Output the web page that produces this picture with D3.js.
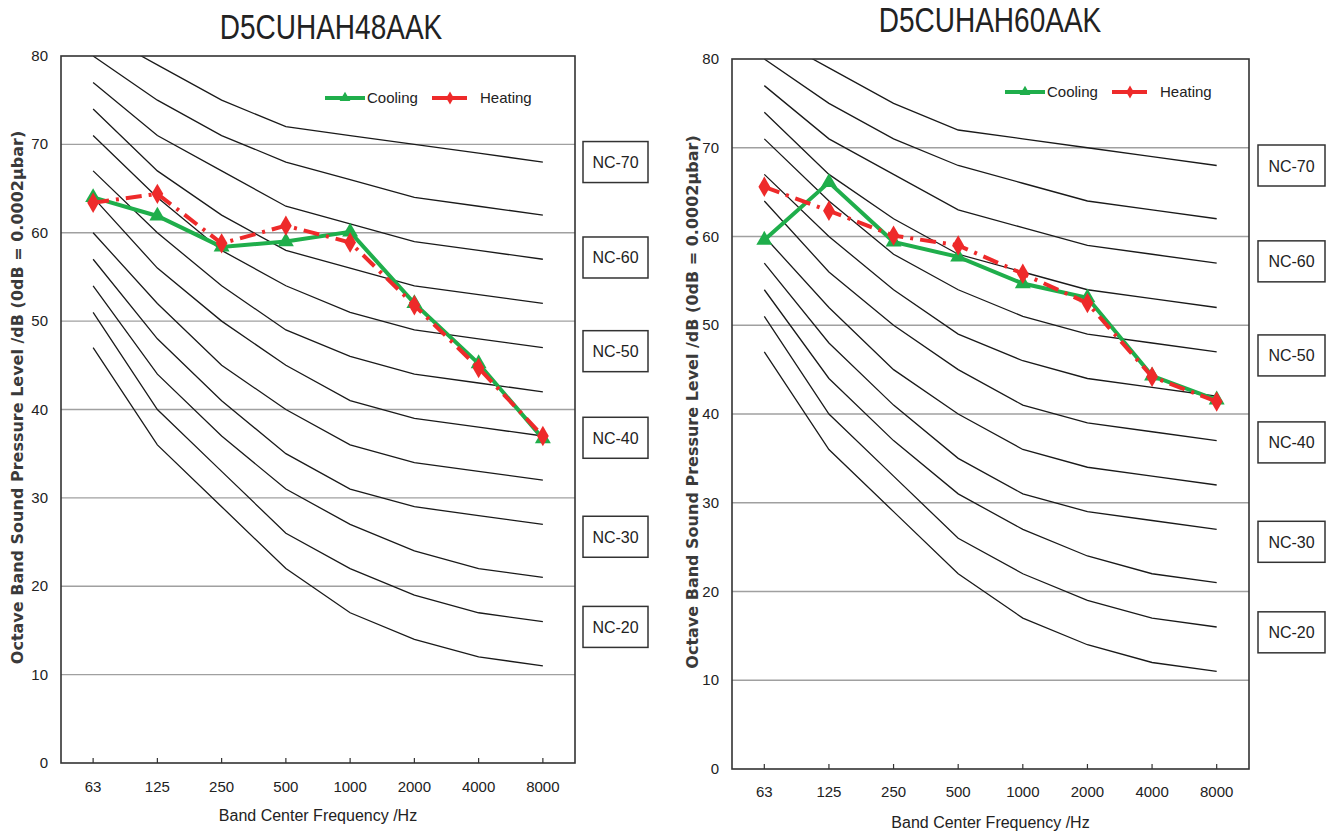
<!DOCTYPE html>
<html>
<head>
<meta charset="utf-8">
<script src="https://cdn.jsdelivr.net/npm/d3@7"></script>
<style>
  body { margin: 0; background: #fff; }
  text { font-family: 'Liberation Sans', Arial, sans-serif; fill: #222; }
</style>
</head>
<body>
<svg></svg>
<script>
const width = 1335;
const height = 838;

// octave band centres
const freqs = ['63', '125', '250', '500', '1000', '2000', '4000', '8000'];
const yTicks = [0, 10, 20, 30, 40, 50, 60, 70, 80];

// NC reference curves (NC-15 .. NC-70)
const ncCurves = [
    [47, 36, 29, 22, 17, 14, 12, 11],
    [51, 40, 33, 26, 22, 19, 17, 16],
    [54, 44, 37, 31, 27, 24, 22, 21],
    [57, 48, 41, 35, 31, 29, 28, 27],
    [60, 52, 45, 40, 36, 34, 33, 32],
    [64, 56, 50, 45, 41, 39, 38, 37],
    [67, 60, 54, 49, 46, 44, 43, 42],
    [71, 64, 58, 54, 51, 49, 48, 47],
    [74, 67, 62, 58, 56, 54, 53, 52],
    [77, 71, 67, 63, 61, 59, 58, 57],
    [80, 75, 71, 68, 66, 64, 63, 62],
    [83, 79, 75, 72, 71, 70, 69, 68]
];
const ncLabels = ['NC-70', 'NC-60', 'NC-50', 'NC-40', 'NC-30', 'NC-20'];
const ncLabelLevels = [68, 57.2, 46.6, 36.8, 25.6, 15.4];

// measured spectra
const cooling48 = [64.0, 61.9, 58.4, 59.0, 60.1, 52.0, 45.2, 36.7];
const heating48 = [63.4, 64.4, 58.8, 60.8, 58.9, 51.8, 44.7, 37.0];
const cooling60 = [59.6, 66.1, 59.4, 57.7, 54.7, 53.1, 44.3, 41.6];
const heating60 = [65.6, 62.9, 60.1, 59.0, 55.8, 52.5, 44.2, 41.4];

const svg = d3.select('svg')
    .attr('width', width)
    .attr('height', height);

const charts = [
    {
        title: 'D5CUHAH48AAK', cooling: cooling48, heating: heating48,
        left: 61, right: 575, top: 56, bottom: 763,
        titleX: 331, titleY: 39,
        yLabelX: 18, xLabelY: 821, tickY: 792,
        boxX: 583, boxW: 65, boxH: 41,
        legendX: 325, legendY: 98
    },
    {
        title: 'D5CUHAH60AAK', cooling: cooling60, heating: heating60,
        left: 732, right: 1249, top: 59, bottom: 769,
        titleX: 990, titleY: 32,
        yLabelX: 693, xLabelY: 828, tickY: 797,
        boxX: 1258, boxW: 67, boxH: 41,
        legendX: 1005, legendY: 92
    }
];

const green = '#1fae4b';
const red = '#ee2a2a';

charts.forEach((c, ci) => {
    const g = svg.append('g');

    const x = d3.scaleBand().domain(freqs).range([c.left, c.right]);
    const y = d3.scaleLinear().domain([0, 80]).range([c.bottom, c.top]);
    const cx = d => x(d) + x.bandwidth() / 2;

    const clipId = 'clip' + ci;
    g.append('clipPath').attr('id', clipId)
        .append('rect')
        .attr('x', c.left).attr('y', c.top)
        .attr('width', c.right - c.left).attr('height', c.bottom - c.top);

    // grid lines
    g.selectAll('line.grid')
        .data(yTicks.filter(d => d > 0 && d < 80))
        .enter().append('line')
        .attr('class', 'grid')
        .attr('x1', c.left).attr('x2', c.right)
        .attr('y1', d => y(d)).attr('y2', d => y(d))
        .attr('stroke', '#a0a0a0')
        .attr('stroke-width', 1.3);

    // NC curves
    const ncLine = d3.line()
        .x((d, i) => cx(freqs[i]))
        .y(d => y(d));

    g.append('g').attr('clip-path', `url(#${clipId})`)
        .selectAll('path')
        .data(ncCurves)
        .enter().append('path')
        .attr('d', ncLine)
        .attr('fill', 'none')
        .attr('stroke', '#1a1a1a')
        .attr('stroke-width', 1.3);

    // frame
    g.append('rect')
        .attr('x', c.left).attr('y', c.top)
        .attr('width', c.right - c.left).attr('height', c.bottom - c.top)
        .attr('fill', 'none')
        .attr('stroke', '#333')
        .attr('stroke-width', 1.6);

    // x ticks (inward)
    g.selectAll('line.xtick')
        .data(freqs)
        .enter().append('line')
        .attr('x1', d => cx(d)).attr('x2', d => cx(d))
        .attr('y1', c.bottom).attr('y2', c.bottom - 5)
        .attr('stroke', '#333')
        .attr('stroke-width', 1.2);

    g.selectAll('text.xtick')
        .data(freqs)
        .enter().append('text')
        .attr('x', d => cx(d))
        .attr('y', c.tickY)
        .attr('text-anchor', 'middle')
        .style('font-size', '15px')
        .text(d => d);

    g.selectAll('text.ytick')
        .data(yTicks)
        .enter().append('text')
        .attr('x', c.left - 13)
        .attr('y', d => y(d) + 5)
        .attr('text-anchor', 'end')
        .style('font-size', '15px')
        .text(d => d);

    // titles and axis labels
    g.append('text')
        .attr('transform', `translate(${c.titleX},${c.titleY}) scale(0.8,1)`)
        .attr('text-anchor', 'middle')
        .style('font-size', '35px')
        .text(c.title);

    g.append('text')
        .attr('x', (c.left + c.right) / 2)
        .attr('y', c.xLabelY)
        .attr('text-anchor', 'middle')
        .style('font-size', '16px')
        .text('Band Center Frequency /Hz');

    g.append('text')
        .attr('transform', `translate(${c.yLabelX},${(c.top + c.bottom) / 2 - 12}) rotate(-90)`)
        .attr('text-anchor', 'middle')
        .attr('dominant-baseline', 'middle')
        .style('font-family', "'DejaVu Sans', sans-serif")
        .style('font-weight', 'bold')
        .style('font-size', '16px')
        .style('fill', '#3a3a3a')
        .text('Octave Band Sound Pressure Level /dB (0dB = 0.0002\u03bcbar)');

    // NC label boxes
    const box = g.selectAll('g.ncbox')
        .data(ncLabels)
        .enter().append('g')
        .attr('transform', (d, i) => `translate(${c.boxX},${y(ncLabelLevels[i]) - c.boxH / 2})`);
    box.append('rect')
        .attr('width', c.boxW).attr('height', c.boxH)
        .attr('fill', '#fff')
        .attr('stroke', '#333')
        .attr('stroke-width', 1.5);
    box.append('text')
        .attr('x', c.boxW / 2).attr('y', c.boxH / 2 + 6)
        .attr('text-anchor', 'middle')
        .style('font-size', '16px')
        .text(d => d);

    // measured series
    const series = [
        { name: 'Cooling', values: c.cooling, color: green, dash: null, symbol: d3.symbolTriangle },
        { name: 'Heating', values: c.heating, color: red, dash: '16,7,3,7', symbol: d3.symbolDiamond }
    ];

    const line = d3.line()
        .x((d, i) => cx(freqs[i]))
        .y(d => y(d));

    series.forEach(s => {
        g.append('path')
            .datum(s.values)
            .attr('d', line)
            .attr('fill', 'none')
            .attr('stroke', s.color)
            .attr('stroke-width', 4)
            .attr('stroke-dasharray', s.dash);

        g.selectAll(null)
            .data(s.values)
            .enter().append('path')
            .attr('transform', (d, i) => `translate(${cx(freqs[i])},${y(d)})`)
            .attr('d', d3.symbol().type(s.symbol).size(s.name === 'Cooling' ? 110 : 120))
            .attr('fill', s.color);
    });

    // legend
    const lg = g.append('g').attr('transform', `translate(${c.legendX},${c.legendY})`);
    lg.append('line').attr('x1', 0).attr('x2', 40).attr('y1', 0).attr('y2', 0)
        .attr('stroke', green).attr('stroke-width', 4);
    lg.append('path').attr('transform', 'translate(20,0)')
        .attr('d', d3.symbol().type(d3.symbolTriangle).size(50)).attr('fill', green);
    lg.append('text').attr('x', 42).attr('y', 5).style('font-size', '15px').text('Cooling');
    lg.append('line').attr('x1', 107).attr('x2', 142).attr('y1', 0).attr('y2', 0)
        .attr('stroke', red).attr('stroke-width', 4);
    lg.append('path').attr('transform', 'translate(125,0)')
        .attr('d', d3.symbol().type(d3.symbolDiamond).size(50)).attr('fill', red);
    lg.append('text').attr('x', 155).attr('y', 5).style('font-size', '15px').text('Heating');
});
</script>
</body>
</html>
